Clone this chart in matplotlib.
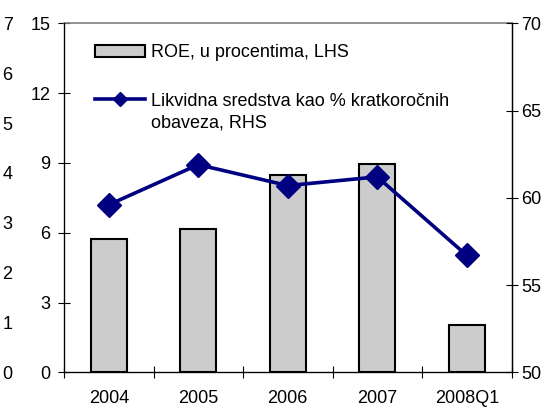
import matplotlib
matplotlib.use("Agg")
import matplotlib.pyplot as plt
from matplotlib.lines import Line2D
from matplotlib.patches import Patch
import numpy as np

plt.rcParams['font.family'] = ['Liberation Sans', 'DejaVu Sans']

categories = ["2004", "2005", "2006", "2007", "2008Q1"]
roe = [5.75, 6.15, 8.49, 8.95, 2.02]
liquid = [59.6, 61.9, 60.7, 61.2, 56.7]
left_ticks = [0, 3, 6, 9, 12, 15]
right_ticks = [50, 55, 60, 65, 70]
stray_ticks = [0, 1, 2, 3, 4, 5, 6, 7]

FS = 13
fig = plt.figure(figsize=(5.51, 4.08), dpi=100)
ax = fig.add_axes([64/551, 1 - 372.3/408, (511.5-64)/551, (372.3-23.3)/408])
x = np.arange(len(categories))

ax.bar(x, roe, width=0.4, color='#CCCCCC', edgecolor='black', linewidth=1.5, zorder=2)
ax.set_xlim(-0.5, len(categories) - 0.5)
ax.set_ylim(0, 15)
ax.set_yticks(left_ticks)
ax.set_xticks(np.arange(-0.5, len(categories), 1.0))
ax.set_xticklabels([])
ax.set_xticks(x, minor=True)
ax.set_xticklabels(categories, minor=True)
ax.tick_params(axis='x', which='major', direction='inout', length=8.5, width=0.8)
ax.tick_params(axis='x', which='minor', length=0, pad=13, labelsize=FS)
ax.tick_params(axis='y', direction='inout', length=8.5, width=0.8, pad=5.5, labelsize=FS)
ax.spines['top'].set_color('#808080')
ax.spines['top'].set_linewidth(1.2)
for s in ['left', 'bottom', 'right']:
    ax.spines[s].set_linewidth(0.9)

ax2 = ax.twinx()
ax2.plot(x, liquid, color='#000080', linewidth=2.6, marker='D', markersize=12, zorder=3)
ax2.set_ylim(50, 70)
ax2.set_yticks(right_ticks)
ax2.tick_params(axis='y', direction='inout', length=8.5, width=0.8, pad=3, labelsize=FS)
ax2.spines['right'].set_linewidth(0.9)
ax2.spines['top'].set_visible(False)

ax3 = ax.twinx()
ax3.set_ylim(0, 7)
ax3.set_yticks(stray_ticks)
ax3.yaxis.set_ticks_position('left')
ax3.yaxis.set_label_position('left')
ax3.spines['left'].set_position(('outward', 37))
for s in ax3.spines.values():
    s.set_visible(False)
ax3.tick_params(axis='y', length=0, pad=0, labelsize=FS, left=True, labelleft=True, right=False, labelright=False)

handles = [Patch(facecolor='#CCCCCC', edgecolor='black', linewidth=1.5),
           Line2D([0], [0], color='#000080', linewidth=2.6, marker='D', markersize=7)]
labels = ["ROE, u procentima, LHS", "Likvidna sredstva kao % kratkoročnih"]
leg = ax2.legend(handles, labels, loc='upper left', bbox_to_anchor=(0.069, 0.94),
                 frameon=False, fontsize=FS, handlelength=2.8, handletextpad=0.3,
                 borderpad=0, borderaxespad=0, labelspacing=1.74)
ax2.text(0.194, 0.714, "obaveza, RHS", transform=ax2.transAxes, fontsize=FS,
         va='center', ha='left')

fig.savefig("out.png", dpi=100)
